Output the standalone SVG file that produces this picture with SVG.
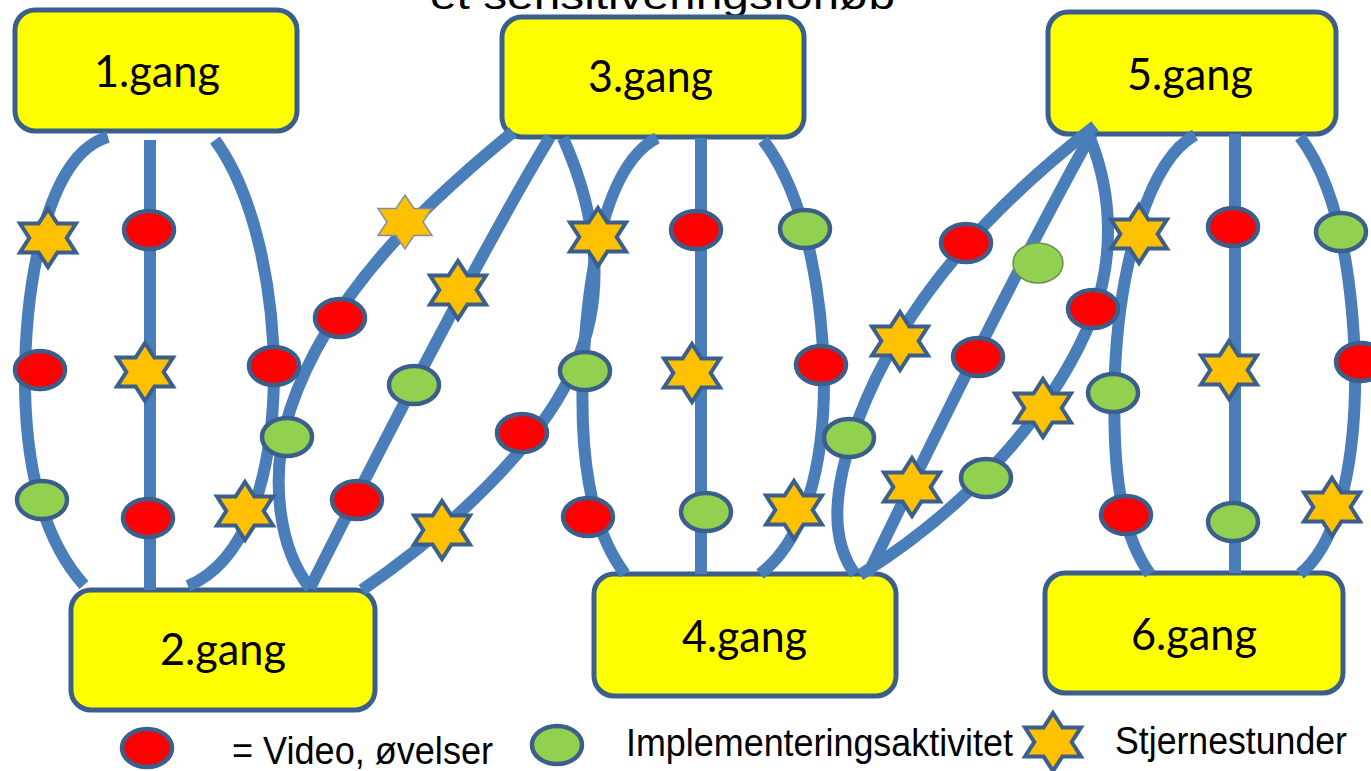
<svg xmlns="http://www.w3.org/2000/svg" width="1371" height="771" viewBox="0 0 1371 771">
<defs>
<style>
.box{fill:#FFFF00;stroke:#3A5F8C;stroke-width:5}
.lbl{font-family:Lato,"Open Sans","Liberation Sans",sans-serif;font-size:44px;fill:#000}
.leg{font-family:"Liberation Sans",Arial,sans-serif;font-size:38px;fill:#000}
.con{fill:none;stroke:#4A7EBB;stroke-width:12;stroke-linecap:butt}
.red{fill:#FF0000;stroke:#3A5F8C;stroke-width:4.5}
.grn{fill:#92D050;stroke:#3A5F8C;stroke-width:4.5}
.star{fill:#FFC000;stroke:#3A5F8C;stroke-width:4;stroke-linejoin:miter}
</style>
<ellipse id="r" class="red" cx="0" cy="0" rx="25" ry="19"/>
<ellipse id="g" class="grn" cx="0" cy="0" rx="25" ry="19"/>
<polygon id="s" class="star" points="0,-29 9.4,-14.5 28,-14.5 18.7,0 28,14.5 9.4,14.5 0,29 -9.4,14.5 -28,14.5 -18.7,0 -28,-14.5 -9.4,-14.5"/>
</defs>
<rect width="1371" height="771" fill="#FFFFFF"/>
<text x="430" y="9" class="leg" font-size="40" textLength="465" lengthAdjust="spacingAndGlyphs">et sensitiveringsforløb</text>

<g id="node-1"><rect class="box" x="15" y="10" width="282" height="121" rx="20"/><text class="lbl" x="94" y="87" textLength="126" lengthAdjust="spacingAndGlyphs">1.gang</text></g>
<g id="node-2"><rect class="box" x="71" y="590" width="304" height="120" rx="20"/><text class="lbl" x="160" y="665" textLength="126" lengthAdjust="spacingAndGlyphs">2.gang</text></g>
<g id="node-3"><rect class="box" x="502" y="17" width="302" height="120" rx="20"/><text class="lbl" x="588" y="92" textLength="125" lengthAdjust="spacingAndGlyphs">3.gang</text></g>
<g id="node-4"><rect class="box" x="594" y="574" width="302" height="122" rx="20"/><text class="lbl" x="682" y="652" textLength="125" lengthAdjust="spacingAndGlyphs">4.gang</text></g>
<g id="node-5"><rect class="box" x="1048" y="12" width="288" height="122" rx="20"/><text class="lbl" x="1127" y="90" textLength="126" lengthAdjust="spacingAndGlyphs">5.gang</text></g>
<g id="node-6"><rect class="box" x="1045" y="573" width="298" height="120" rx="20"/><text class="lbl" x="1131" y="650" textLength="126" lengthAdjust="spacingAndGlyphs">6.gang</text></g>

<g id="connectors">
<path class="con" d="M108,137 C45,155 24,290 25,390 C27,480 48,545 84,585"/>
<path class="con" d="M150,140 L150,590"/>
<path class="con" d="M215,140 C255,195 274,290 274,375 C273,470 250,560 188,586"/>
<path class="con" d="M513,132 C430,200 330,290 290,410 C268,480 280,550 310,588"/>
<path class="con" d="M550,137 Q470,270 310,588"/>
<path class="con" d="M563,138 C600,220 605,300 575,365 C545,440 450,530 362,590"/>
<path class="con" d="M657,138 C605,165 588,270 583,370 C580,450 588,525 625,574"/>
<path class="con" d="M701,138 L701,574"/>
<path class="con" d="M763,140 C805,195 822,290 824,375 C825,465 805,540 760,574"/>
<path class="con" d="M1095,126 C1000,200 905,295 858,420 C832,490 830,540 855,574"/>
<path class="con" d="M1092,133 Q1010,280 868,574"/>
<path class="con" d="M1090,138 C1115,200 1112,265 1093,315 C1060,400 980,500 860,575"/>
<path class="con" d="M1195,135 C1150,160 1120,260 1115,370 C1112,460 1118,530 1150,574"/>
<path class="con" d="M1235,134 L1235,573"/>
<path class="con" d="M1300,137 C1340,190 1352,280 1355,360 C1357,450 1342,540 1300,574"/>
</g>

<g id="markers">
<use href="#s" x="48" y="238"/><use href="#r" x="149" y="230"/>
<use href="#r" x="40" y="370"/><use href="#s" x="145" y="372"/><use href="#r" x="274" y="366"/>
<use href="#g" x="42" y="500"/><use href="#r" x="148" y="518"/><use href="#s" x="245" y="511"/>

<polygon class="star" style="stroke:#7F8FA6;stroke-width:1.5" transform="translate(405,222)" points="0,-27 9,-13.5 27,-13.5 18,0 27,13.5 9,13.5 0,27 -9,13.5 -27,13.5 -18,0 -27,-13.5 -9,-13.5"/>
<use href="#r" x="340" y="318"/><use href="#s" x="458" y="290"/>
<use href="#g" x="414" y="385"/><use href="#g" x="287" y="437"/>
<use href="#r" x="357" y="500"/><use href="#r" x="522" y="433"/><use href="#s" x="442" y="530"/>

<use href="#s" x="598" y="237"/><use href="#r" x="696" y="230"/><use href="#g" x="805" y="229"/>
<use href="#g" x="585" y="371"/><use href="#s" x="692" y="373"/><use href="#r" x="821" y="365"/>
<use href="#r" x="588" y="517"/><use href="#g" x="706" y="512"/><use href="#s" x="794" y="510"/>

<use href="#r" x="966" y="243"/>
<ellipse cx="1038" cy="263" rx="25" ry="20" fill="#92D050" stroke="#6A8F50" stroke-width="1.5"/>
<use href="#r" x="1093" y="309"/>
<use href="#s" x="900" y="341"/><use href="#r" x="978" y="357"/><use href="#s" x="1043" y="408"/>
<use href="#g" x="849" y="438"/><use href="#s" x="912" y="487"/><use href="#g" x="986" y="478"/>

<use href="#s" x="1139" y="234"/><use href="#r" x="1233" y="227"/><use href="#g" x="1341" y="232"/>
<use href="#g" x="1113" y="393"/><use href="#s" x="1229" y="370"/><use href="#r" x="1361" y="362"/>
<use href="#r" x="1126" y="515"/><use href="#g" x="1233" y="522"/><use href="#s" x="1332" y="507"/>
</g>

<g id="legend">
<use href="#r" x="147" y="748"/>
<text class="leg" x="232" y="764" font-size="34" textLength="261" lengthAdjust="spacingAndGlyphs">= Video, øvelser</text>
<use href="#g" x="557" y="745"/>
<text class="leg" x="626" y="756" font-size="36" textLength="387" lengthAdjust="spacingAndGlyphs">Implementeringsaktivitet</text>
<use href="#s" x="1053" y="742"/>
<text class="leg" x="1115" y="754" font-size="38" textLength="232" lengthAdjust="spacingAndGlyphs">Stjernestunder</text>
</g>
</svg>
